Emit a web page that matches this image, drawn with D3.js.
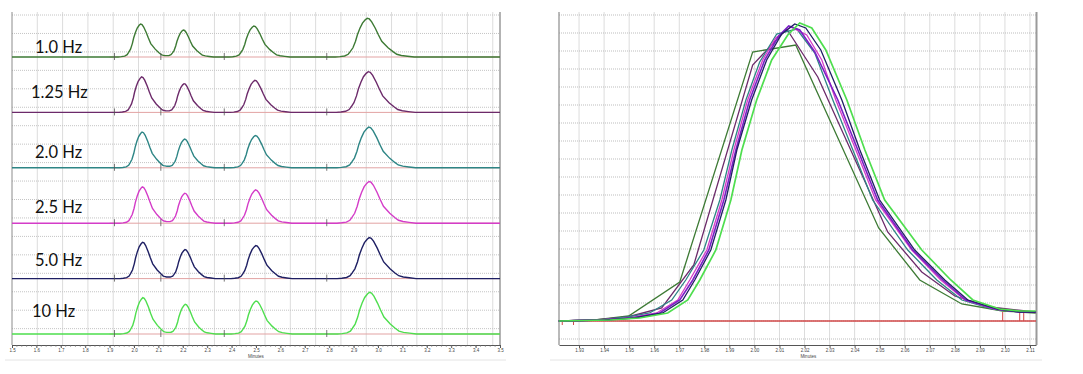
<!DOCTYPE html>
<html>
<head>
<meta charset="utf-8">
<script src="https://cdn.jsdelivr.net/npm/d3@7"></script>
<style>
body { margin: 0; background: #fff; }
svg { display: block; }
</style>
</head>
<body>
<div id="chart"></div>
<script>
// ---- data ----

// left panel: one chromatogram per sampling rate
var rates = ["1.0 Hz", "1.25 Hz", "2.0 Hz", "2.5 Hz", "5.0 Hz", "10 Hz"];
var peakTimes = [
    [2.027, 2.202, 2.491, 2.956],
    [2.031, 2.205, 2.495, 2.960],
    [2.033, 2.207, 2.497, 2.962],
    [2.034, 2.208, 2.498, 2.963],
    [2.035, 2.209, 2.499, 2.964],
    [2.036, 2.210, 2.500, 2.965]
];
var peakHeights = [
    [33.0, 27.0, 31.0, 38.7],
    [35.5, 28.7, 32.0, 40.7],
    [35.7, 28.7, 32.3, 40.7],
    [36.3, 30.0, 33.3, 41.7],
    [36.3, 29.0, 33.0, 41.0],
    [36.3, 29.7, 33.0, 41.7]
];
var peakWidths = [1.23, 1.13, 1.35, 1.75];
// peak profile: minutes from apex, fraction of apex height
var peakShape = [
    [-0.075, 0], [-0.064, 0.01], [-0.053, 0.027], [-0.0447, 0.07], [-0.0399, 0.138],
    [-0.0335, 0.238], [-0.0275, 0.406], [-0.0231, 0.574], [-0.0172, 0.742],
    [-0.0112, 0.876], [-0.0048, 0.96], [0, 1], [0.0048, 0.983], [0.0104, 0.909],
    [0.0188, 0.742], [0.026, 0.574], [0.0339, 0.406], [0.0487, 0.238],
    [0.0603, 0.138], [0.0691, 0.07], [0.0798, 0.04], [0.094, 0.02], [0.11, 0]
];
var markTimes = [1.92, 2.11, 2.37, 2.79];
var leftTicks = [1.5, 1.6, 1.7, 1.8, 1.9, 2.0, 2.1, 2.2, 2.3, 2.4, 2.5, 2.6, 2.7, 2.8, 2.9, 3.0, 3.1, 3.2, 3.3, 3.4, 3.5];

// right panel: first peak overlaid, [minutes, signal]
var trace1Hz = [[1.9219,0],[1.9363,1],[1.9498,5],[1.9702,39],[1.9993,269],[2.0165,276],[2.0496,93],[2.0660,41],[2.0828,17],[2.0991,10],[2.1123,8]];
var trace125Hz = [[1.9219,0],[1.9363,1],[1.9494,4],[1.9630,13],[1.9758,56],[1.9993,256],[2.0129,292],[2.0253,244],[2.0532,89],[2.0668,49],[2.0800,25],[2.0940,14],[2.1123,9]];
var trace2Hz = [[1.9219,0],[1.9383,1],[1.9494,4],[1.9582,8],[1.9670,21],[1.9726,41],[1.9798,71],[1.9862,121],[1.9910,171],[1.9966,221],[2.0021,259],[2.0089,287],[2.0169,292],[2.0241,268],[2.0313,221],[2.0393,171],[2.0472,121],[2.0612,71],[2.0728,41],[2.0828,21],[2.0951,12],[2.1059,9],[2.1123,9]];
var trace25Hz = [[1.9219,0],[1.9383,1],[1.9502,3],[1.9610,8],[1.9694,21],[1.9742,41],[1.9810,71],[1.9870,121],[1.9918,171],[1.9973,221],[2.0033,261],[2.0085,283],[2.0145,294],[2.0209,286],[2.0269,261],[2.0325,221],[2.0405,171],[2.0484,121],[2.0628,71],[2.0744,41],[2.0840,21],[2.0959,12],[2.1059,9],[2.1123,9]];
var traceViolet = [[1.9219,0],[1.9395,1],[1.9510,3],[1.9622,8],[1.9702,21],[1.9754,41],[1.9818,71],[1.9878,121],[1.9926,171],[1.9981,221],[2.0041,261],[2.0097,285],[2.0137,295],[2.0181,291],[2.0241,269],[2.0333,221],[2.0413,171],[2.0492,121],[2.0632,71],[2.0752,41],[2.0844,21],[2.0963,12],[2.1059,9],[2.1123,9]];
var trace5Hz = [[1.9219,0],[1.9403,1],[1.9522,3],[1.9634,8],[1.9714,21],[1.9762,41],[1.9826,71],[1.9886,121],[1.9930,171],[1.9989,221],[2.0049,261],[2.0109,287],[2.0161,297],[2.0205,293],[2.0265,271],[2.0349,221],[2.0421,171],[2.0500,121],[2.0640,71],[2.0760,41],[2.0852,21],[2.0971,12],[2.1059,9],[2.1123,9]];
var trace10Hz = [[1.9219,0],[1.9423,1],[1.9542,3],[1.9654,8],[1.9734,21],[1.9782,41],[1.9846,71],[1.9906,121],[1.9950,171],[2.0009,221],[2.0069,261],[2.0133,286],[2.0181,298],[2.0229,293],[2.0285,271],[2.0369,221],[2.0441,171],[2.0520,121],[2.0668,71],[2.0784,41],[2.0872,21],[2.0979,12],[2.1059,10],[2.1123,10]];
var rightTicks = [1.93, 1.94, 1.95, 1.96, 1.97, 1.98, 1.99, 2.00, 2.01, 2.02, 2.03, 2.04, 2.05, 2.06, 2.07, 2.08, 2.09, 2.10, 2.11];

// ---- styles ----
var rateColors = ["#3d7a34", "#6c2a6a", "#2d8585", "#d43cc8", "#1e1f63", "#4ede4e"];
var rightTraces = [
    {data: trace1Hz, color: "#3d7a34", w: 1.3},
    {data: trace125Hz, color: "#6c2a6a", w: 1.3},
    {data: trace2Hz, color: "#2d8585", w: 1.3},
    {data: trace25Hz, color: "#d43cc8", w: 1.3},
    {data: traceViolet, color: "#7a1fc6", w: 1.6},
    {data: trace5Hz, color: "#1e1f63", w: 1.3},
    {data: trace10Hz, color: "#4ede4e", w: 1.7}
];
var labelDx = [35, 31, 35, 35, 35, 32];
var labelDy = [-4, -14.7, -9.7, -10.7, -12.3, -17.3];

var svg = d3.select("#chart").append("svg")
    .attr("width", 1083)
    .attr("height", 374);

// ================= left panel =================
var xL = d3.scaleLinear().domain([1.5, 3.5]).range([12, 500]);
var lane = d3.scalePoint().domain(rates).range([57, 334]);
var yL = d3.scaleLinear().domain([0, 55]).range([0, -55]);

var left = svg.append("g");

// grid
left.selectAll(".vgl")
    .data(d3.range(1.5 + 0.1037, 3.5, 0.1037))
    .enter().append("line")
    .attr("x1", function(d) { return xL(d); })
    .attr("x2", function(d) { return xL(d); })
    .attr("y1", 12).attr("y2", 345)
    .attr("stroke", "#dcdcdc").attr("stroke-width", 1);
left.selectAll(".hgl")
    .data(d3.range(15, 345, 18.45))
    .enter().append("line")
    .attr("x1", 12).attr("x2", 500)
    .attr("y1", function(d) { return d; })
    .attr("y2", function(d) { return d; })
    .attr("stroke", "#c4c4c4").attr("stroke-dasharray", "1,1");

// frame
left.append("line").attr("x1", 12).attr("x2", 12).attr("y1", 12).attr("y2", 345).attr("stroke", "#8c8c8c");
left.append("line").attr("x1", 500).attr("x2", 500).attr("y1", 12).attr("y2", 345).attr("stroke", "#9a9a9a").attr("stroke-width", 1.5);

function shapeAt(u) {
    if (u <= peakShape[0][0] || u >= peakShape[peakShape.length - 1][0]) return 0;
    for (var i = 1; i < peakShape.length; i++) {
        if (u <= peakShape[i][0]) {
            var a = peakShape[i - 1], b = peakShape[i];
            return a[1] + (b[1] - a[1]) * (u - a[0]) / (b[0] - a[0]);
        }
    }
    return 0;
}

rates.forEach(function(r, i) {
    var g = left.append("g").attr("transform", "translate(0," + lane(r) + ")");
    // sample times: ends plus every profile point of every peak
    var ts = [1.5, 3.5];
    peakTimes[i].forEach(function(tp, k) {
        peakShape.forEach(function(s) { ts.push(tp + s[0] * peakWidths[k]); });
    });
    ts.sort(d3.ascending);
    var pts = ts.map(function(t) {
        var v = 0;
        peakTimes[i].forEach(function(tp, k) {
            v += peakHeights[i][k] * shapeAt((t - tp) / peakWidths[k]);
        });
        return [t, v];
    });

    // baseline drawn by the software
    g.append("line")
        .attr("x1", xL(1.9)).attr("x2", xL(3.5))
        .attr("y1", yL(0)).attr("y2", yL(0))
        .attr("stroke", "#e2a3a3").attr("stroke-width", 1);

    g.append("path")
        .datum(pts)
        .attr("fill", "none")
        .attr("stroke", rateColors[i])
        .attr("stroke-width", 1.4)
        .attr("d", d3.line()
            .x(function(d) { return xL(d[0]); })
            .y(function(d) { return yL(d[1]); }));

    g.selectAll(".mark")
        .data(markTimes)
        .enter().append("line")
        .attr("x1", function(d) { return xL(d); })
        .attr("x2", function(d) { return xL(d); })
        .attr("y1", yL(0) - 4).attr("y2", yL(0) + 3)
        .attr("stroke", "#555").attr("stroke-width", 0.8);

    g.append("text")
        .attr("x", labelDx[i])
        .attr("y", labelDy[i])
        .attr("font-family", "Lato, 'Open Sans', sans-serif")
        .attr("font-size", 16.5)
        .attr("fill", "#111")
        .text(r);
});

// x axis
var axL = left.append("g")
    .attr("transform", "translate(0,345)")
    .call(d3.axisBottom(xL).tickValues(leftTicks).tickSize(3).tickPadding(1).tickSizeOuter(0).tickFormat(d3.format(".1f")));
axL.select(".domain").attr("stroke", "#555");
axL.selectAll(".tick line").attr("stroke", "#555");
axL.selectAll("text").attr("font-size", 4.5).attr("fill", "#444");
left.selectAll(".minorL")
    .data(d3.range(1.52, 3.5, 0.02))
    .enter().append("line")
    .attr("x1", function(d) { return xL(d); })
    .attr("x2", function(d) { return xL(d); })
    .attr("y1", 345).attr("y2", 347)
    .attr("stroke", "#777").attr("stroke-width", 0.6);
left.append("text").attr("x", xL(2.5)).attr("y", 358).attr("text-anchor", "middle")
    .attr("font-size", 4.5).attr("fill", "#444").attr("font-family", "sans-serif").text("Minutes");
left.append("line").attr("x1", 5).attr("x2", 506).attr("y1", 360).attr("y2", 360).attr("stroke", "#e4e4e4");

// ================= right panel =================
var xR = d3.scaleLinear().domain([1.922, 2.1124]).range([559, 1036]);
var yR = d3.scaleLinear().domain([0, 309]).range([321, 12]);

var right = svg.append("g");

right.selectAll(".vgr")
    .data(rightTicks)
    .enter().append("line")
    .attr("x1", function(d) { return xR(d); })
    .attr("x2", function(d) { return xR(d); })
    .attr("y1", 12).attr("y2", 345)
    .attr("stroke", "#dcdcdc");
right.selectAll(".hgr")
    .data(d3.range(-18, 310, 18))
    .enter().append("line")
    .attr("x1", 559).attr("x2", 1036)
    .attr("y1", function(d) { return yR(d); })
    .attr("y2", function(d) { return yR(d); })
    .attr("stroke", "#bdbdbd").attr("stroke-dasharray", "1,1");

right.append("line").attr("x1", 559).attr("x2", 559).attr("y1", 12).attr("y2", 345).attr("stroke", "#8c8c8c").attr("stroke-width", 1.2);
right.append("line").attr("x1", 1036.5).attr("x2", 1036.5).attr("y1", 12).attr("y2", 345).attr("stroke", "#9a9a9a").attr("stroke-width", 2);

// baseline + integration marks
right.append("line")
    .attr("x1", xR(1.922)).attr("x2", xR(2.1124))
    .attr("y1", yR(0)).attr("y2", yR(0))
    .attr("stroke", "#d24848").attr("stroke-width", 1.5);
right.selectAll(".rmark")
    .data([1.9233, 1.9278])
    .enter().append("line")
    .attr("x1", function(d) { return xR(d); })
    .attr("x2", function(d) { return xR(d); })
    .attr("y1", yR(0)).attr("y2", yR(0) + 4)
    .attr("stroke", "#d24848");
right.selectAll(".rmark2")
    .data([2.0991, 2.1059, 2.1075])
    .enter().append("line")
    .attr("x1", function(d) { return xR(d); })
    .attr("x2", function(d) { return xR(d); })
    .attr("y1", yR(0)).attr("y2", yR(9))
    .attr("stroke", "#d24848");

var lineR = d3.line()
    .x(function(d) { return xR(d[0]); })
    .y(function(d) { return yR(d[1]); });

right.selectAll(".trace")
    .data(rightTraces)
    .enter().append("path")
    .attr("fill", "none")
    .attr("stroke", function(d) { return d.color; })
    .attr("stroke-width", function(d) { return d.w; })
    .attr("d", function(d) { return lineR(d.data); });

var axR = right.append("g")
    .attr("transform", "translate(0,345)")
    .call(d3.axisBottom(xR).tickValues(rightTicks).tickSize(3).tickPadding(1).tickSizeOuter(0).tickFormat(d3.format(".2f")));
axR.select(".domain").attr("stroke", "#555");
axR.selectAll(".tick line").attr("stroke", "#555");
axR.selectAll("text").attr("font-size", 4.5).attr("fill", "#444");
right.append("text").attr("x", xR(2.0215)).attr("y", 358).attr("text-anchor", "middle")
    .attr("font-size", 4.5).attr("fill", "#444").attr("font-family", "sans-serif").text("Minutes");
right.append("line").attr("x1", 550).attr("x2", 1042).attr("y1", 360).attr("y2", 360).attr("stroke", "#e4e4e4");
</script>
</body>
</html>
